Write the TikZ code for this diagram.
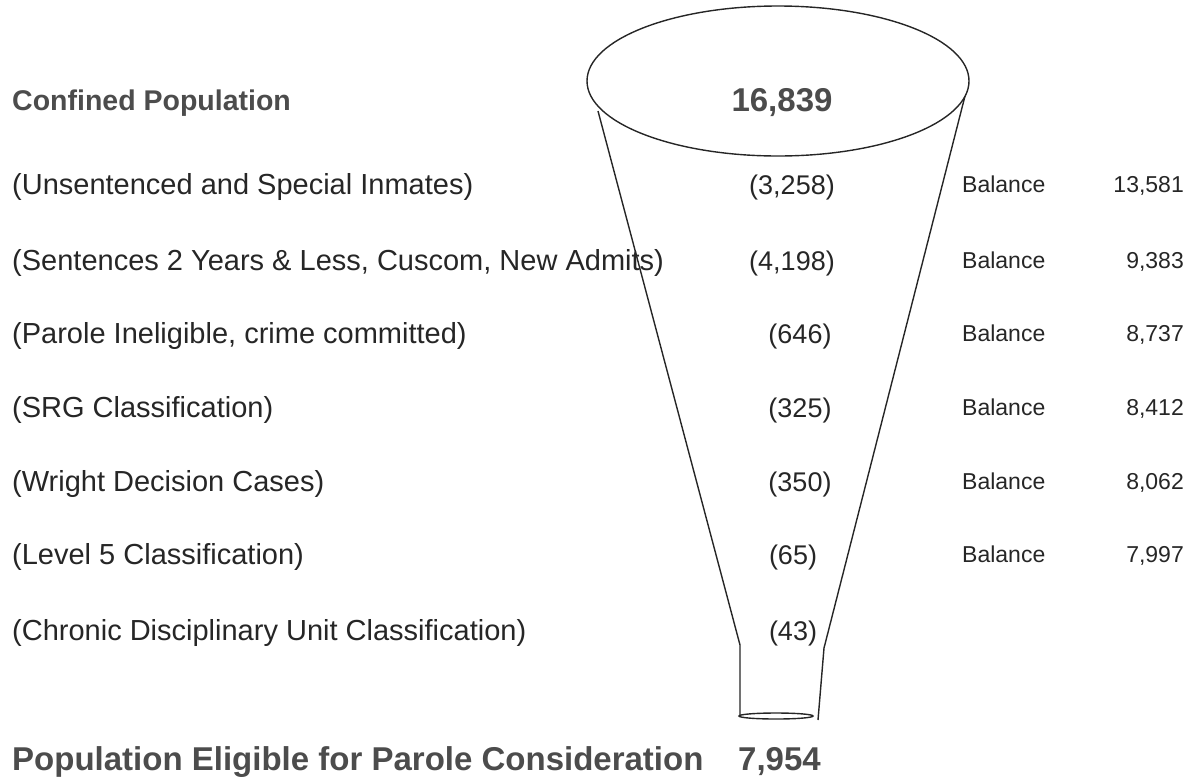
\documentclass[tikz,border=0pt]{standalone}
\usepackage{fontspec}
\setmainfont{Liberation Sans}
\begin{document}
\begin{tikzpicture}[x=1pt,y=-1pt,
  lab/.style={anchor=base west, inner sep=0, font=\fontsize{29}{34}\selectfont, text=black!85},
  num/.style={anchor=base, inner sep=0, font=\fontsize{27}{32}\selectfont, text=black!85},
  bal/.style={anchor=base west, inner sep=0, font=\fontsize{23}{28}\selectfont, text=black!85},
  balnum/.style={anchor=base east, inner sep=0, font=\fontsize{23}{28}\selectfont, text=black!85},
  ttl/.style={anchor=base west, inner sep=0, font=\fontsize{28.5}{34}\selectfont\bfseries, text=black!70},
  big/.style={anchor=base west, inner sep=0, font=\fontsize{33}{38}\selectfont\bfseries, text=black!70},
  funnel/.style={line width=1.4pt, draw=black!85}]
\useasboundingbox (0,0) rectangle (1193,780);
% funnel
\draw[funnel] (778,81) ellipse [x radius=191, y radius=75];
\draw[funnel] (598,111) -- (740,645) -- (740,715);
\draw[funnel] (965,96) -- (824,648) -- (818,720);
\draw[funnel] (776,716) ellipse [x radius=37, y radius=3];
% titles
\node[ttl] (t0) at (12,110) {Confined Population};
\node[anchor=base, inner sep=0, font=\fontsize{33}{38}\selectfont\bfseries, text=black!70] (n0) at (782,111) {16,839};
% rows
\node[lab] (t1) at (12,194) {(Unsentenced and Special Inmates)};
\node[lab] (t2) at (12,270) {(Sentences 2 Years \& Less, Cuscom, New Admits)};
\node[lab] (t3) at (12,343) {(Parole Ineligible, crime committed)};
\node[lab] (t4) at (12,417) {(SRG Classification)};
\node[lab] (t5) at (12,491) {(Wright Decision Cases)};
\node[lab] (t6) at (12,564) {(Level 5 Classification)};
\node[lab] (t7) at (12,640) {(Chronic Disciplinary Unit Classification)};
\node[num] (n1) at (792,194) {(3,258)};
\node[num] (n2) at (792,270) {(4,198)};
\node[num] (n3) at (800,343) {(646)};
\node[num] (n4) at (800,417) {(325)};
\node[num] (n5) at (800,491) {(350)};
\node[num] (n6) at (793,564) {(65)};
\node[num] (n7) at (793,640) {(43)};
\node[bal] (b1) at (962,192) {Balance};
\node[bal] (b2) at (962,268) {Balance};
\node[bal] (b3) at (962,341) {Balance};
\node[bal] (b4) at (962,415) {Balance};
\node[bal] (b5) at (962,489) {Balance};
\node[bal] (b6) at (962,562) {Balance};
\node[balnum] (v1) at (1184,192) {13,581};
\node[balnum] (v2) at (1184,268) {9,383};
\node[balnum] (v3) at (1184,341) {8,737};
\node[balnum] (v4) at (1184,415) {8,412};
\node[balnum] (v5) at (1184,489) {8,062};
\node[balnum] (v6) at (1184,562) {7,997};
% bottom
\node[big] (t8) at (12,770) {Population Eligible for Parole Consideration};
\node[big] (n8) at (738,770) {7,954};
\end{tikzpicture}
\end{document}
